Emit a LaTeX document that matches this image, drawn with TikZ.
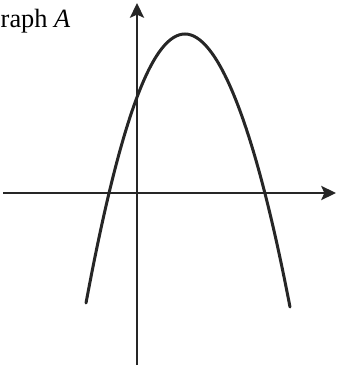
\documentclass[tikz,border=0pt]{standalone}
\usepackage{fontspec}
\setmainfont{Liberation Serif}
\usetikzlibrary{arrows.meta}

\begin{document}
\begin{tikzpicture}[
  x=0.03cm, y=-0.03cm,
  axis/.style={line width=0.8mm, -{Stealth[length=4.4mm, width=4.2mm, inset=0.9mm]}, black!85},
  curve/.style={line width=0.9mm, black!85, line cap=round},
  graphlabel/.style={font=\fontsize{22.5}{26}\selectfont, anchor=base west, inner sep=0pt}
]
\useasboundingbox (0,0) rectangle (337,367);

% axes
\coordinate (ybot) at (137,365);
\coordinate (ytop) at (137,3);
\coordinate (xleft) at (3,193);
\coordinate (xright) at (336,193);
\draw[axis] (ybot) -- (ytop);
\draw[axis] (xleft) -- (xright);

% label
\node[graphlabel] (title) at (0.5,28) {raph \textit{A}};

% parabola
\coordinate (pleft) at (86,303);
\coordinate (ptop) at (185,34);
\coordinate (pright) at (290,307);
\draw[curve] (pleft) .. controls (123,105) and (155,34) .. (ptop)
  .. controls (215,34) and (252,110) .. (pright);

\end{tikzpicture}
\end{document}
